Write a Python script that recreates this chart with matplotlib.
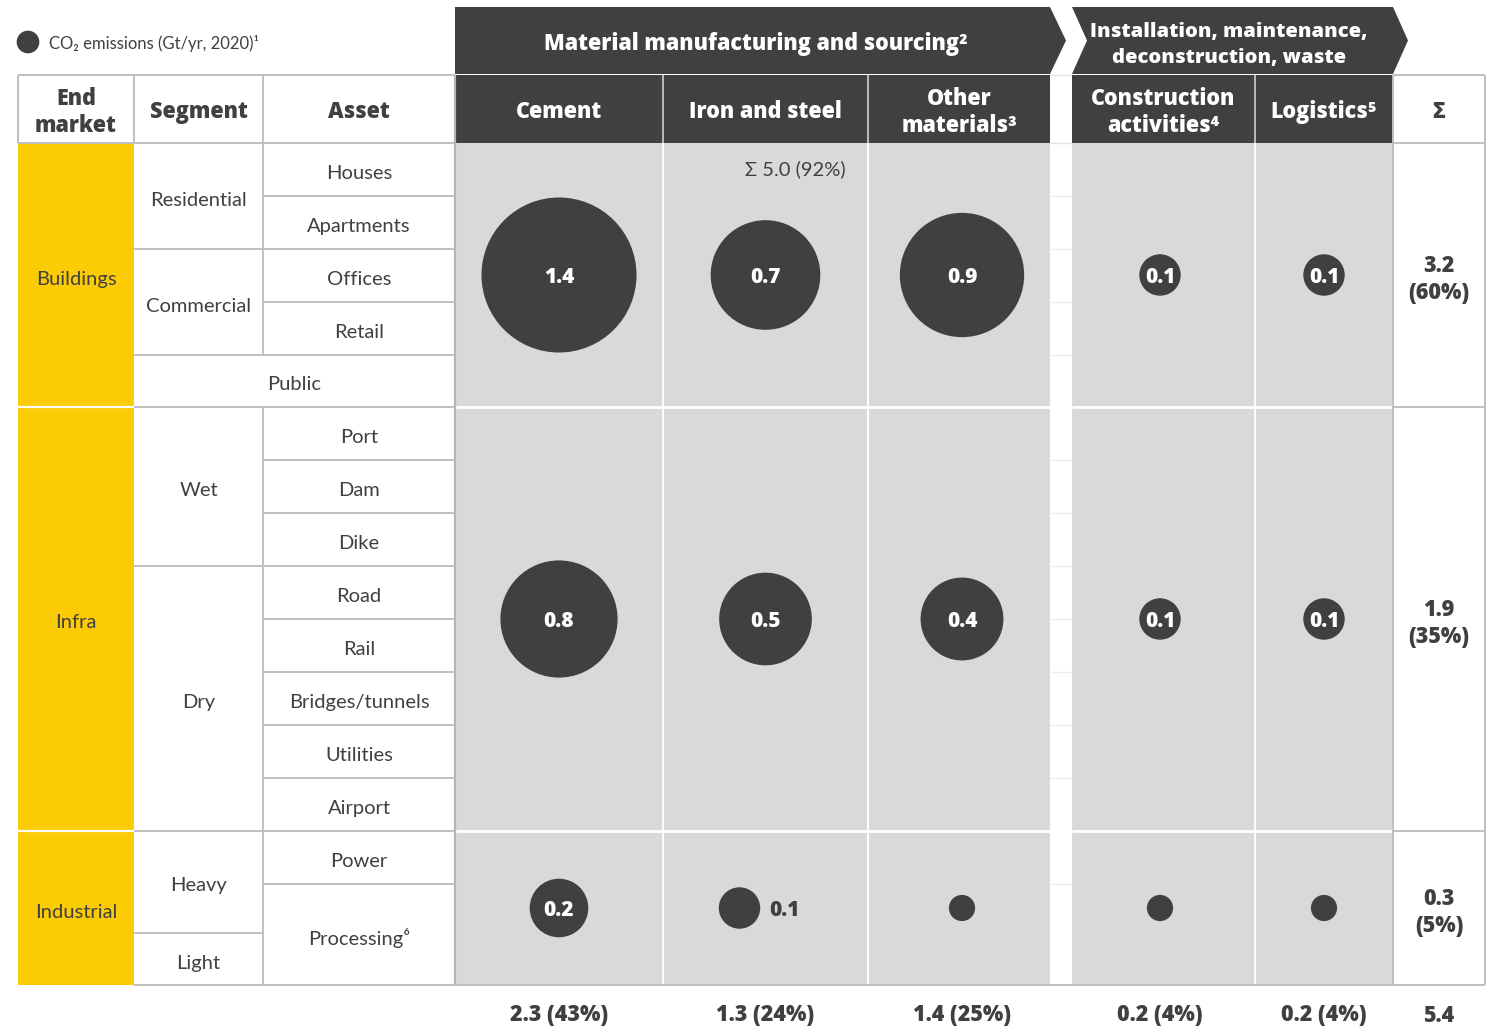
import matplotlib
matplotlib.use("Agg")
import matplotlib.pyplot as plt
from matplotlib.patches import Rectangle, Polygon

plt.rcParams["font.family"] = ["Lato", "DejaVu Sans"]
BOLD = dict(family=["Open Sans", "DejaVu Sans"], fontweight=800)

# ---------------- data ----------------
stage_groups = ["Material manufacturing and sourcing²",
                "Installation, maintenance,\ndeconstruction, waste"]
columns = ["Cement", "Iron and steel", "Other\nmaterials³",
           "Construction\nactivities⁴", "Logistics⁵"]
end_markets = ["Buildings", "Infra", "Industrial"]

# CO2 emissions, Gt/yr (2020), per end market and column
emis_buildings = [1.4, 0.7, 0.9, 0.1, 0.1]
emis_infra = [0.8, 0.5, 0.4, 0.1, 0.1]
emis_industrial = [0.2, 0.1, 0.04, 0.04, 0.04]
# where each bubble's value is printed ("in" = inside, "out" = beside, "" = none)
label_buildings = ["in", "in", "in", "in", "in"]
label_infra = ["in", "in", "in", "in", "in"]
label_industrial = ["in", "out", "", "", ""]

column_totals = ["2.3 (43%)", "1.3 (24%)", "1.4 (25%)", "0.2 (4%)", "0.2 (4%)"]
market_totals = ["3.2\n(60%)", "1.9\n(35%)", "0.3\n(5%)"]
grand_total = "5.4"
materials_total = "Σ 5.0 (92%)"

segments_buildings = ["Residential", "Commercial"]
segments_infra = ["Wet", "Dry"]
segments_industrial = ["Heavy", "Light"]
assets_buildings = ["Houses", "Apartments", "Offices", "Retail"]
public_label = "Public"
assets_infra = ["Port", "Dam", "Dike", "Road", "Rail", "Bridges/tunnels",
                "Utilities", "Airport"]
assets_industrial = ["Power", "Processing⁶"]

legend_text = "CO₂ emissions (Gt/yr, 2020)¹"

# ---------------- style / layout ----------------
DARK = "#404040"
GREY_CELL = "#D9D9D9"
LINE = "#BFBFBF"
YELLOW = "#FBCC05"
SIZE_PER_GT = 8900  # marker area (pt^2) per Gt
FS = 14.5           # body label size
FSB = 15.5          # bold label size
DY = 4              # baseline nudge for body labels (pixels)
DYB = 2.5           # baseline nudge for bold labels (pixels)

W, H = 1488, 1028
fig = plt.figure(figsize=(W / 100, H / 100), dpi=100)
ax = fig.add_axes([0, 0, 1, 1])
ax.set_xlim(0, W)
ax.set_ylim(H, 0)
ax.axis("off")

x_em0, x_em1 = 18, 134
x_seg1 = 263
x_asset1 = 455
x_sum1 = 1485
col_left = [455, 663, 868, 1072, 1255]
col_right = [663, 868, 1050, 1255, 1393]
col_cx = [(a + b) / 2 for a, b in zip(col_left, col_right)]
col_cx[2] = 962
col_cx[3] = 1160

y_ban0, y_ban1 = 7, 74
y_head0, y_head1 = 75, 143
market_edges = [143, 407, 831, 985]
market_cy = [(market_edges[i] + market_edges[i + 1]) / 2 for i in range(3)]
x_sum_c = (1393 + x_sum1) / 2


def rect(x0, y0, x1, y1, **kw):
    ax.add_patch(Rectangle((x0, y0), x1 - x0, y1 - y0, **kw))


def hline(y, x0, x1, color=LINE, lw=1.4, z=3):
    ax.plot([x0, x1], [y, y], color=color, lw=lw, zorder=z, solid_capstyle="butt")


def vline(x, y0, y1, color=LINE, lw=1.4, z=3):
    ax.plot([x, x], [y0, y1], color=color, lw=lw, zorder=z, solid_capstyle="butt")


def body(x, y, s, **kw):
    ax.text(x, y + DY, s, color=DARK, fontsize=FS, ha="center", va="center",
            zorder=5, **kw)


def bold(x, y, s, color=DARK, size=FSB, ha="center", ls=1.12, **kw):
    ax.text(x, y + DYB, s, color=color, fontsize=size, ha=ha, va="center",
            linespacing=ls, zorder=7, **BOLD, **kw)


# ---- banners (chevrons) ----
ax.add_patch(Polygon([(455, y_ban0), (1050, y_ban0), (1066, 40.5), (1050, y_ban1),
                      (455, y_ban1)], closed=True, fc=DARK, ec="none", zorder=2))
ax.add_patch(Polygon([(1072, y_ban0), (1393, y_ban0), (1408, 40.5), (1393, y_ban1),
                      (1072, y_ban1), (1087, 40.5)], closed=True, fc=DARK, ec="none",
                     zorder=2))
bold(756, 42, stage_groups[0], color="white", size=15.5)
bold(1229, 42, stage_groups[1], color="white", size=14.5, ls=1.4)

# ---- header row ----
for i in range(5):
    rect(col_left[i], y_head0, col_right[i], y_head1, fc=DARK, ec="none", zorder=2)
    bold((col_left[i] + col_right[i]) / 2, 110, columns[i], color="white")
for x in [663, 868, 1255]:
    vline(x, y_head0, y_head1, color="#D0D0D0", lw=1.2, z=4)
bold(x_sum_c, 110, "Σ")
bold((x_em0 + x_em1) / 2, 110, "End\nmarket")
bold((x_em1 + x_seg1) / 2, 110, "Segment")
bold((x_seg1 + x_asset1) / 2, 110, "Asset")

# header borders
hline(y_head0, x_em0, x_asset1)
hline(y_head0, 1393, x_sum1)
hline(y_head1, x_em0, x_asset1)
hline(y_head1, 1393, x_sum1)
hline(y_head0, 1050, 1072, color="#E4E4E4", lw=1.0, z=1)
hline(y_head1, 1050, 1072, color="#E4E4E4", lw=1.0, z=1)
for x in [x_em0, x_em1, x_seg1]:
    vline(x, y_head0, y_head1)
vline(x_sum1, y_head0, market_edges[-1])
vline(1393, y_head0, market_edges[-1])

# ---- body background ----
rect(455, 143, 1050, 985, fc=GREY_CELL, ec="none", zorder=1)
rect(1072, 143, 1393, 985, fc=GREY_CELL, ec="none", zorder=1)
for x in [663, 868, 1255]:
    vline(x, 143, 985, color="white", lw=1.4, z=2)
for y in market_edges[1:3]:
    hline(y, 455, 1050, color="white", lw=2, z=2)
    hline(y, 1072, 1393, color="white", lw=2, z=2)
vline(x_asset1, y_head0, 985, color="#B5B5B5", lw=1.6, z=3)

# yellow end-market column
for i, m in enumerate(end_markets):
    rect(x_em0, market_edges[i], x_em1, market_edges[i + 1], fc=YELLOW, ec="none",
         zorder=1)
    body((x_em0 + x_em1) / 2, market_cy[i], m)
for y in market_edges[1:3]:
    hline(y, x_em0, x_em1, color="white", lw=1.6, z=3)

b_rows = [143, 196, 249, 302, 355, 407]
i_rows = [407 + 53 * k for k in range(9)]
d_rows = [831, 884, 985]
seg_x = (x_em1 + x_seg1) / 2
asset_x = (x_seg1 + x_asset1) / 2

# buildings
for k, a in enumerate(assets_buildings):
    body(asset_x, (b_rows[k] + b_rows[k + 1]) / 2, a)
body((x_em1 + x_asset1) / 2, (b_rows[4] + b_rows[5]) / 2, public_label)
body(seg_x, (b_rows[0] + b_rows[2]) / 2, segments_buildings[0])
body(seg_x, (b_rows[2] + b_rows[4]) / 2, segments_buildings[1])
for y in [196, 302]:
    hline(y, x_seg1, x_asset1)
for y in [249, 355]:
    hline(y, x_em1, x_asset1)
vline(x_seg1, 143, 355)

# infra
for k, a in enumerate(assets_infra):
    body(asset_x, (i_rows[k] + i_rows[k + 1]) / 2, a)
    if k > 0 and k != 3:
        hline(i_rows[k], x_seg1, x_asset1)
hline(i_rows[3], x_em1, x_asset1)
body(seg_x, (i_rows[0] + i_rows[3]) / 2, segments_infra[0])
body(seg_x, (i_rows[3] + i_rows[8]) / 2, segments_infra[1])
vline(x_seg1, 407, 985)

# industrial
for k, a in enumerate(assets_industrial):
    body(asset_x, (d_rows[k] + d_rows[k + 1]) / 2, a)
hline(884, x_seg1, x_asset1)
hline(933, x_em1, x_seg1)
body(seg_x, (831 + 933) / 2, segments_industrial[0])
body(seg_x, (933 + 985) / 2, segments_industrial[1])

for y in market_edges[1:3]:
    hline(y, x_em1, x_asset1)
    hline(y, 1393, x_sum1)
hline(985, x_em1, x_sum1)

# faint row lines across the gap column
for y in b_rows[1:-1] + i_rows[1:-1] + [884]:
    hline(y, 1050, 1072, color="#EEEEEE", lw=1.0, z=1)

# ---- bubbles ----
emissions = [emis_buildings, emis_infra, emis_industrial]
labels = [label_buildings, label_infra, label_industrial]
for r in range(3):
    vals = emissions[r]
    xs = [cx - 26 if labels[r][c] == "out" else cx for c, cx in enumerate(col_cx)]
    ax.scatter(xs, [market_cy[r]] * 5, s=[SIZE_PER_GT * v for v in vals],
               color=DARK, edgecolors="none", zorder=6)
    for c in range(5):
        v = vals[c]
        if labels[r][c] == "in":
            bold(xs[c], market_cy[r], f"{v:.1f}", color="white", size=15)
        elif labels[r][c] == "out":
            bold(col_cx[c] + 4, market_cy[r], f"{v:.1f}", size=15, ha="left")

ax.text(795, 168 + 1, materials_total, color=DARK, fontsize=FS, ha="center",
        va="center", zorder=5)

# ---- totals ----
for r in range(3):
    bold(x_sum_c, market_cy[r] + 2, market_totals[r], size=15.5)
for c in range(5):
    bold(col_cx[c], 1013, column_totals[c], size=15.5)
bold(x_sum_c, 1013, grand_total, size=15.5)

# ---- legend ----
ax.scatter([28], [42], s=SIZE_PER_GT * 0.03, color=DARK, edgecolors="none", zorder=6)
ax.text(49, 44, legend_text, color=DARK, fontsize=12, ha="left", va="center",
        zorder=5)

fig.savefig("out.png", dpi=100, facecolor="white")
